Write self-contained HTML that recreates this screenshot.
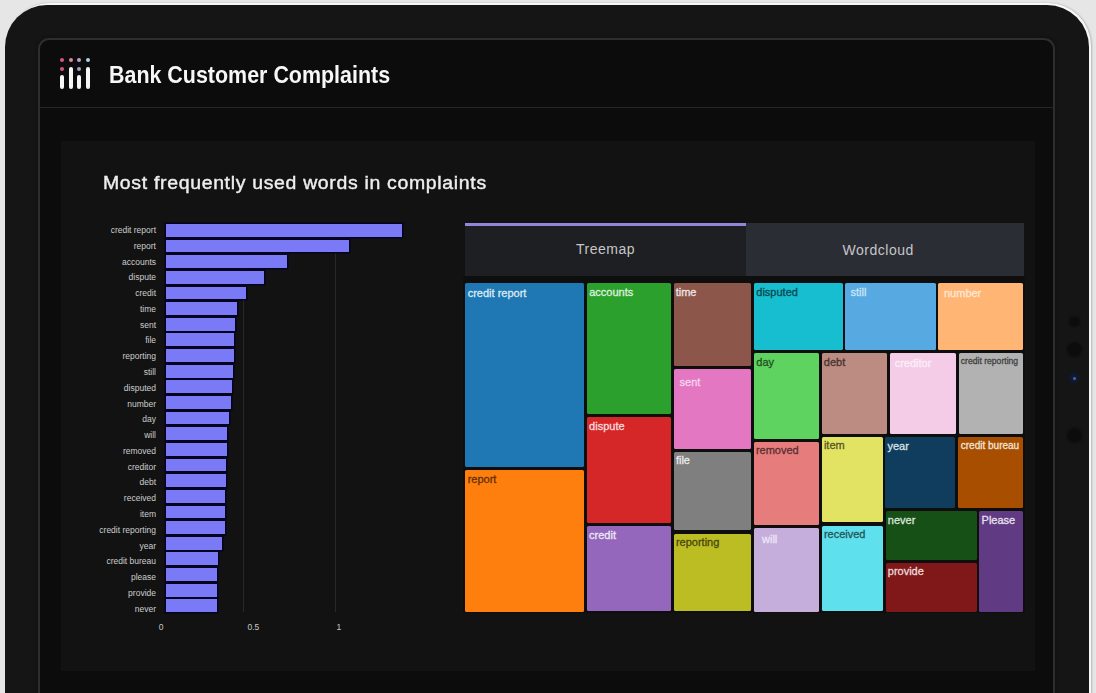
<!DOCTYPE html>
<html><head><meta charset="utf-8">
<style>
*{margin:0;padding:0;box-sizing:border-box}
html,body{width:1096px;height:693px;overflow:hidden;background:#e6e6e6;font-family:"Liberation Sans",sans-serif}
.abs{position:absolute}
#tablet{position:absolute;left:4.5px;top:4.8px;width:1084.7px;height:900px;border-radius:42px;background:#151515}
#rim{position:absolute;left:7px;top:2.8px;width:1084px;height:900px;border-radius:43px;background:#f7f7f7;box-shadow:0.5px 0 2px rgba(0,0,0,0.22)}
#screen{position:absolute;left:37.7px;top:37.8px;width:1017px;height:800px;border-radius:11px;background:#0c0c0c;border:2px solid #2e2e2e;box-shadow:0 0 3px 1px #111}
#hdrline{position:absolute;left:39px;top:107px;width:1015px;height:1px;background:#262626}
#card{position:absolute;left:61px;top:141px;width:974px;height:530px;background:#121212}
.lbl{position:absolute;right:940px;font-size:8.5px;color:#cdcdcd;line-height:10px;white-space:nowrap;text-align:right}
.bar{position:absolute;left:166px;height:12.8px;background:#7b7af6;box-shadow:0 0 0 1.5px #05031e}
.grid{position:absolute;top:224px;width:1px;height:388px;background:#282828}
.tick{position:absolute;top:621.5px;font-size:8.5px;color:#c8c8c8;line-height:10px;white-space:nowrap}
.tab{position:absolute;top:223px;height:52.5px;font-size:14px;letter-spacing:0.5px;color:#c6c6c8;display:flex;align-items:center;justify-content:center}
.t{position:absolute;border-radius:1.5px}
.t span{position:absolute;font-size:11px;line-height:12px;white-space:nowrap}
.dot{position:absolute;width:4.4px;height:4.4px;border-radius:50%}
.lb{position:absolute;width:4px;border-radius:2px;background:#f6f6f6}
.cam{position:absolute;border-radius:50%;background:#101010}
</style></head><body>
<div id="rim"></div><div id="tablet"></div>
<div class="cam" style="left:1068.5px;top:316px;width:11px;height:11px;background:#0c0c0c;filter:blur(1.2px)"></div>
<div class="cam" style="left:1066.5px;top:342px;width:15px;height:15px;background:#0c0c0c;filter:blur(1.2px)"></div>
<div class="cam" style="left:1069px;top:373px;width:10px;height:10px;background:#0f1a36;filter:blur(0.8px)"></div>
<div class="cam" style="left:1072.5px;top:376.5px;width:3px;height:3px;background:#4a6aa0;filter:blur(0.5px)"></div>
<div class="cam" style="left:1066.5px;top:428px;width:15px;height:15px;background:#0c0c0c;filter:blur(1.2px)"></div>
<div id="screen"></div>
<div id="hdrline"></div>
<div id="card"></div>

<!-- logo -->
<div class="dot" style="left:59.5px;top:58px;background:#d9567b"></div>
<div class="dot" style="left:68.5px;top:58px;background:#d98aa4"></div>
<div class="dot" style="left:77px;top:58px;background:#b9a3c9"></div>
<div class="dot" style="left:85.8px;top:58px;background:#a9d6e6"></div>
<div class="dot" style="left:59.5px;top:67px;background:#d5597f"></div>
<div class="dot" style="left:77px;top:67px;background:#a99dbd"></div>
<div class="lb" style="left:60px;top:75px;height:13.7px"></div>
<div class="lb" style="left:68.6px;top:66.8px;height:21.9px"></div>
<div class="lb" style="left:77.2px;top:75px;height:13.7px"></div>
<div class="lb" style="left:86.1px;top:66.8px;height:21.9px"></div>
<div class="abs" style="left:109px;top:62px;font-size:23px;font-weight:bold;color:#f7f7f7;line-height:26px;white-space:nowrap;transform:scaleX(0.932);transform-origin:0 0">Bank Customer Complaints</div>

<div class="abs" style="left:103px;top:172px;font-size:18px;letter-spacing:0.63px;color:#eeeeee;-webkit-text-stroke:0.4px #eeeeee;transform:scaleX(1.08);transform-origin:0 0;line-height:22px;white-space:nowrap">Most frequently used words in complaints</div>

<!-- bar chart -->
<div class="grid" style="left:242.5px"></div><div class="grid" style="left:334.5px"></div>
<div class="bar" style="top:224.00px;width:235.5px"></div>
<div class="lbl" style="top:224.95px">credit report</div>
<div class="bar" style="top:239.64px;width:183.0px"></div>
<div class="lbl" style="top:240.73px">report</div>
<div class="bar" style="top:255.28px;width:121.0px"></div>
<div class="lbl" style="top:256.51px">accounts</div>
<div class="bar" style="top:270.92px;width:98.0px"></div>
<div class="lbl" style="top:272.29px">dispute</div>
<div class="bar" style="top:286.56px;width:80.0px"></div>
<div class="lbl" style="top:288.07px">credit</div>
<div class="bar" style="top:302.20px;width:71.3px"></div>
<div class="lbl" style="top:303.85px">time</div>
<div class="bar" style="top:317.84px;width:69.0px"></div>
<div class="lbl" style="top:319.63px">sent</div>
<div class="bar" style="top:333.48px;width:68.0px"></div>
<div class="lbl" style="top:335.41px">file</div>
<div class="bar" style="top:349.12px;width:67.5px"></div>
<div class="lbl" style="top:351.19px">reporting</div>
<div class="bar" style="top:364.76px;width:66.5px"></div>
<div class="lbl" style="top:366.97px">still</div>
<div class="bar" style="top:380.40px;width:66.0px"></div>
<div class="lbl" style="top:382.75px">disputed</div>
<div class="bar" style="top:396.04px;width:64.6px"></div>
<div class="lbl" style="top:398.53px">number</div>
<div class="bar" style="top:411.68px;width:63.0px"></div>
<div class="lbl" style="top:414.31px">day</div>
<div class="bar" style="top:427.32px;width:61.0px"></div>
<div class="lbl" style="top:430.09px">will</div>
<div class="bar" style="top:442.96px;width:61.0px"></div>
<div class="lbl" style="top:445.87px">removed</div>
<div class="bar" style="top:458.60px;width:60.0px"></div>
<div class="lbl" style="top:461.65px">creditor</div>
<div class="bar" style="top:474.24px;width:60.0px"></div>
<div class="lbl" style="top:477.43px">debt</div>
<div class="bar" style="top:489.88px;width:59.0px"></div>
<div class="lbl" style="top:493.21px">received</div>
<div class="bar" style="top:505.52px;width:59.0px"></div>
<div class="lbl" style="top:508.99px">item</div>
<div class="bar" style="top:521.16px;width:59.0px"></div>
<div class="lbl" style="top:524.77px">credit reporting</div>
<div class="bar" style="top:536.80px;width:56.0px"></div>
<div class="lbl" style="top:540.55px">year</div>
<div class="bar" style="top:552.44px;width:52.3px"></div>
<div class="lbl" style="top:556.33px">credit bureau</div>
<div class="bar" style="top:568.08px;width:51.0px"></div>
<div class="lbl" style="top:572.11px">please</div>
<div class="bar" style="top:583.72px;width:51.0px"></div>
<div class="lbl" style="top:587.89px">provide</div>
<div class="bar" style="top:599.36px;width:51.0px"></div>
<div class="lbl" style="top:603.67px">never</div>
<div class="tick" style="left:158.8px">0</div><div class="tick" style="left:247.5px">0.5</div><div class="tick" style="left:336.5px">1</div>

<!-- tabs -->
<div class="tab" style="left:465px;width:281px;background:#1e1f22;border-top:3px solid #9485dc;padding-bottom:3px">Treemap</div>
<div class="tab" style="left:746px;width:278px;background:#2a2d33;padding-right:13.6px;padding-top:1px">Wordcloud</div>

<div class="abs" style="left:463px;top:276px;width:562px;height:337px;background:#0e0e0e"></div>
<div class="t" style="left:465px;top:283px;width:119.0px;height:184.0px;background:#1f77b4"><span style="left:2.7px;top:3.74px;color:#ddeaf3;-webkit-text-stroke:0.3px #ddeaf3;font-size:11px;line-height:normal">credit report</span></div>
<div class="t" style="left:465px;top:469.5px;width:119.0px;height:142.0px;background:#ff7f0e"><span style="left:2.7px;top:3.14px;color:#603005;-webkit-text-stroke:0.3px #603005;font-size:11px;line-height:normal">report</span></div>
<div class="t" style="left:586.5px;top:283px;width:84.5px;height:131.0px;background:#2ca02c"><span style="left:2.7px;top:3.45px;color:#dff0df;-webkit-text-stroke:0.3px #dff0df;font-size:11px;line-height:normal">accounts</span></div>
<div class="t" style="left:586.5px;top:416.8px;width:84.5px;height:106.0px;background:#d62728"><span style="left:2.6px;top:3.54px;color:#f8dede;-webkit-text-stroke:0.3px #f8dede;font-size:11px;line-height:normal">dispute</span></div>
<div class="t" style="left:586.5px;top:525.6px;width:84.5px;height:85.9px;background:#9467bd"><span style="left:2.6px;top:2.95px;color:#eee8f5;-webkit-text-stroke:0.3px #eee8f5;font-size:11px;line-height:normal">credit</span></div>
<div class="t" style="left:673.5px;top:283px;width:77.2px;height:83.0px;background:#8c564b"><span style="left:2.2px;top:3.45px;color:#ede5e4;-webkit-text-stroke:0.3px #ede5e4;font-size:11px;line-height:normal">time</span></div>
<div class="t" style="left:673.5px;top:368.8px;width:77.2px;height:79.8px;background:#e377c2"><span style="left:6.1px;top:7.24px;color:#f6d6ec;-webkit-text-stroke:0.3px #f6d6ec;font-size:11px;line-height:normal">sent</span></div>
<div class="t" style="left:673.5px;top:451.5px;width:77.2px;height:78.7px;background:#7f7f7f"><span style="left:2.4px;top:2.85px;color:#ebebeb;-webkit-text-stroke:0.3px #ebebeb;font-size:11px;line-height:normal">file</span></div>
<div class="t" style="left:673.5px;top:533.7px;width:77.2px;height:77.8px;background:#bcbd22"><span style="left:2.4px;top:2.24px;color:#47470c;-webkit-text-stroke:0.3px #47470c;font-size:11px;line-height:normal">reporting</span></div>
<div class="t" style="left:754px;top:283px;width:89.0px;height:67.0px;background:#17becf"><span style="left:2.3px;top:2.54px;color:#08484e;-webkit-text-stroke:0.3px #08484e;font-size:11px;line-height:normal">disputed</span></div>
<div class="t" style="left:844.5px;top:283px;width:91.3px;height:67.0px;background:#57a9e2"><span style="left:6.0px;top:2.54px;color:#cce5f6;-webkit-text-stroke:0.3px #cce5f6;font-size:11px;line-height:normal">still</span></div>
<div class="t" style="left:937.7px;top:283px;width:85.6px;height:67.0px;background:#ffb574"><span style="left:6.3px;top:4.45px;color:#ffe8d5;-webkit-text-stroke:0.3px #ffe8d5;font-size:11px;line-height:normal">number</span></div>
<div class="t" style="left:754px;top:353px;width:65.0px;height:85.5px;background:#5fd35f"><span style="left:2.3px;top:2.54px;color:#245024;-webkit-text-stroke:0.3px #245024;font-size:11px;line-height:normal">day</span></div>
<div class="t" style="left:821.5px;top:353px;width:65.5px;height:81.0px;background:#bc8b81"><span style="left:2.3px;top:2.54px;color:#473431;-webkit-text-stroke:0.3px #473431;font-size:11px;line-height:normal">debt</span></div>
<div class="t" style="left:889.5px;top:353px;width:66.5px;height:81.0px;background:#f4cce8"><span style="left:5.2px;top:3.74px;color:#fbeff8;-webkit-text-stroke:0.3px #fbeff8;font-size:11px;line-height:normal">creditor</span></div>
<div class="t" style="left:959px;top:353px;width:64.0px;height:81.0px;background:#b2b2b2"><span style="left:1.8px;top:3.22px;color:#434343;-webkit-text-stroke:0.3px #434343;font-size:8.6px;line-height:normal">credit reporting</span></div>
<div class="t" style="left:754px;top:441.7px;width:65.0px;height:82.9px;background:#e77c7d"><span style="left:1.9px;top:2.45px;color:#572f2f;-webkit-text-stroke:0.3px #572f2f;font-size:11px;line-height:normal">removed</span></div>
<div class="t" style="left:821.8px;top:437px;width:61.0px;height:85.4px;background:#e2e362"><span style="left:2.1px;top:2.35px;color:#555625;-webkit-text-stroke:0.3px #555625;font-size:11px;line-height:normal">item</span></div>
<div class="t" style="left:885.3px;top:436.7px;width:70.1px;height:71.5px;background:#103d5d"><span style="left:2.1px;top:3.64px;color:#dbe1e6;-webkit-text-stroke:0.3px #dbe1e6;font-size:11px;line-height:normal">year</span></div>
<div class="t" style="left:958.2px;top:436.7px;width:64.6px;height:71.1px;background:#a74e00"><span style="left:2.6px;top:3.55px;color:#f1e4d8;-webkit-text-stroke:0.3px #f1e4d8;font-size:10px;line-height:normal">credit bureau</span></div>
<div class="t" style="left:754px;top:528px;width:64.7px;height:83.5px;background:#c6aedc"><span style="left:8.0px;top:5.04px;color:#ede6f4;-webkit-text-stroke:0.3px #ede6f4;font-size:11px;line-height:normal">will</span></div>
<div class="t" style="left:821.8px;top:525.5px;width:61.0px;height:85.7px;background:#5fe0ed"><span style="left:2.1px;top:2.85px;color:#24555a;-webkit-text-stroke:0.3px #24555a;font-size:11px;line-height:normal">received</span></div>
<div class="t" style="left:885.6px;top:511px;width:91.0px;height:49.4px;background:#165016"><span style="left:2.2px;top:3.14px;color:#dce4dc;-webkit-text-stroke:0.3px #dce4dc;font-size:11px;line-height:normal">never</span></div>
<div class="t" style="left:885.6px;top:563.2px;width:91.0px;height:48.4px;background:#801718"><span style="left:2.2px;top:2.24px;color:#ebdcdc;-webkit-text-stroke:0.3px #ebdcdc;font-size:11px;line-height:normal">provide</span></div>
<div class="t" style="left:978.8px;top:511px;width:44.5px;height:100.6px;background:#613a84"><span style="left:2.8px;top:3.14px;color:#e7e1ec;-webkit-text-stroke:0.3px #e7e1ec;font-size:11px;line-height:normal">Please</span></div>
</body></html>
